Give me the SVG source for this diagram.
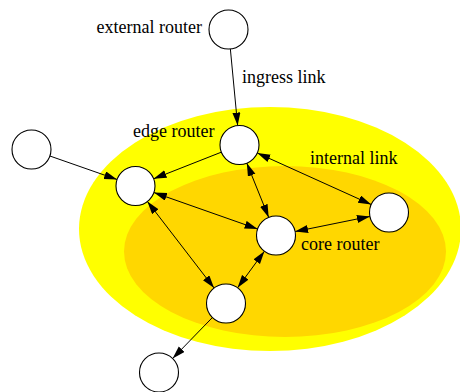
<svg xmlns="http://www.w3.org/2000/svg" width="460" height="392" viewBox="0 0 460 392">
<style>
.n{fill:#fff;stroke:#000;stroke-width:1.1}
.e{stroke:#000;stroke-width:1;fill:none;marker-end:url(#ah)}
.b{marker-start:url(#ah)}
.t{font-family:"Liberation Serif","Times New Roman",serif;font-size:18px;fill:#000}
</style>
<defs>
<marker id="ah" markerUnits="userSpaceOnUse" markerWidth="14" markerHeight="9" refX="13" refY="4" orient="auto-start-reverse">
<path d="M0,0 L13,4 L0,8 z" fill="#000"/>
</marker>
</defs>
<g id="regions">
<ellipse cx="270" cy="229" rx="191" ry="122" fill="#ffff00"/>
<ellipse cx="285" cy="251.5" rx="161" ry="85.5" fill="#ffd700"/>
</g>
<g id="connectors">
<line class="e" x1="230.35" y1="48.9" x2="237.65" y2="125.6"/>
<line class="e" x1="49.9" y1="156" x2="117.1" y2="179.5"/>
<line class="e" x1="221.4" y1="152.15" x2="153.6" y2="178.85"/>
<line class="e b" x1="257.3" y1="153" x2="371.2" y2="204.5"/>
<line class="e b" x1="246.8" y1="163.1" x2="268.7" y2="217.4"/>
<line class="e b" x1="153.9" y1="192.5" x2="257.6" y2="229"/>
<line class="e b" x1="147.4" y1="201.45" x2="214.1" y2="288.05"/>
<line class="e b" x1="295.1" y1="231.6" x2="369.9" y2="216.4"/>
<line class="e b" x1="264.4" y1="251.2" x2="237.6" y2="287.8"/>
<line class="e" x1="212.4" y1="317.5" x2="172.6" y2="358.5"/>
</g>
<g id="labels">
<text class="t" x="202" y="33" text-anchor="end">external router</text>
<text class="t" x="242" y="83">ingress link</text>
<text class="t" x="133" y="137">edge router</text>
<text class="t" x="310" y="164">internal link</text>
<text class="t" x="301" y="250">core router</text>
</g>
<g id="ext"><circle class="n" cx="228.5" cy="29.5" r="19.5"/></g>
<g id="edge"><circle class="n" cx="239.5" cy="145" r="19.5"/></g>
<g id="leftOuter"><circle class="n" cx="31.5" cy="149.5" r="19.5"/></g>
<g id="leftEdge"><circle class="n" cx="135.5" cy="186" r="19.5"/></g>
<g id="rightEdge"><circle class="n" cx="389" cy="212.5" r="19.5"/></g>
<g id="core"><circle class="n" cx="276" cy="235.5" r="19.5"/></g>
<g id="bottomEdge"><circle class="n" cx="226" cy="303.5" r="19.5"/></g>
<g id="bottomOuter"><circle class="n" cx="159" cy="372.5" r="19.5"/></g>
</svg>
